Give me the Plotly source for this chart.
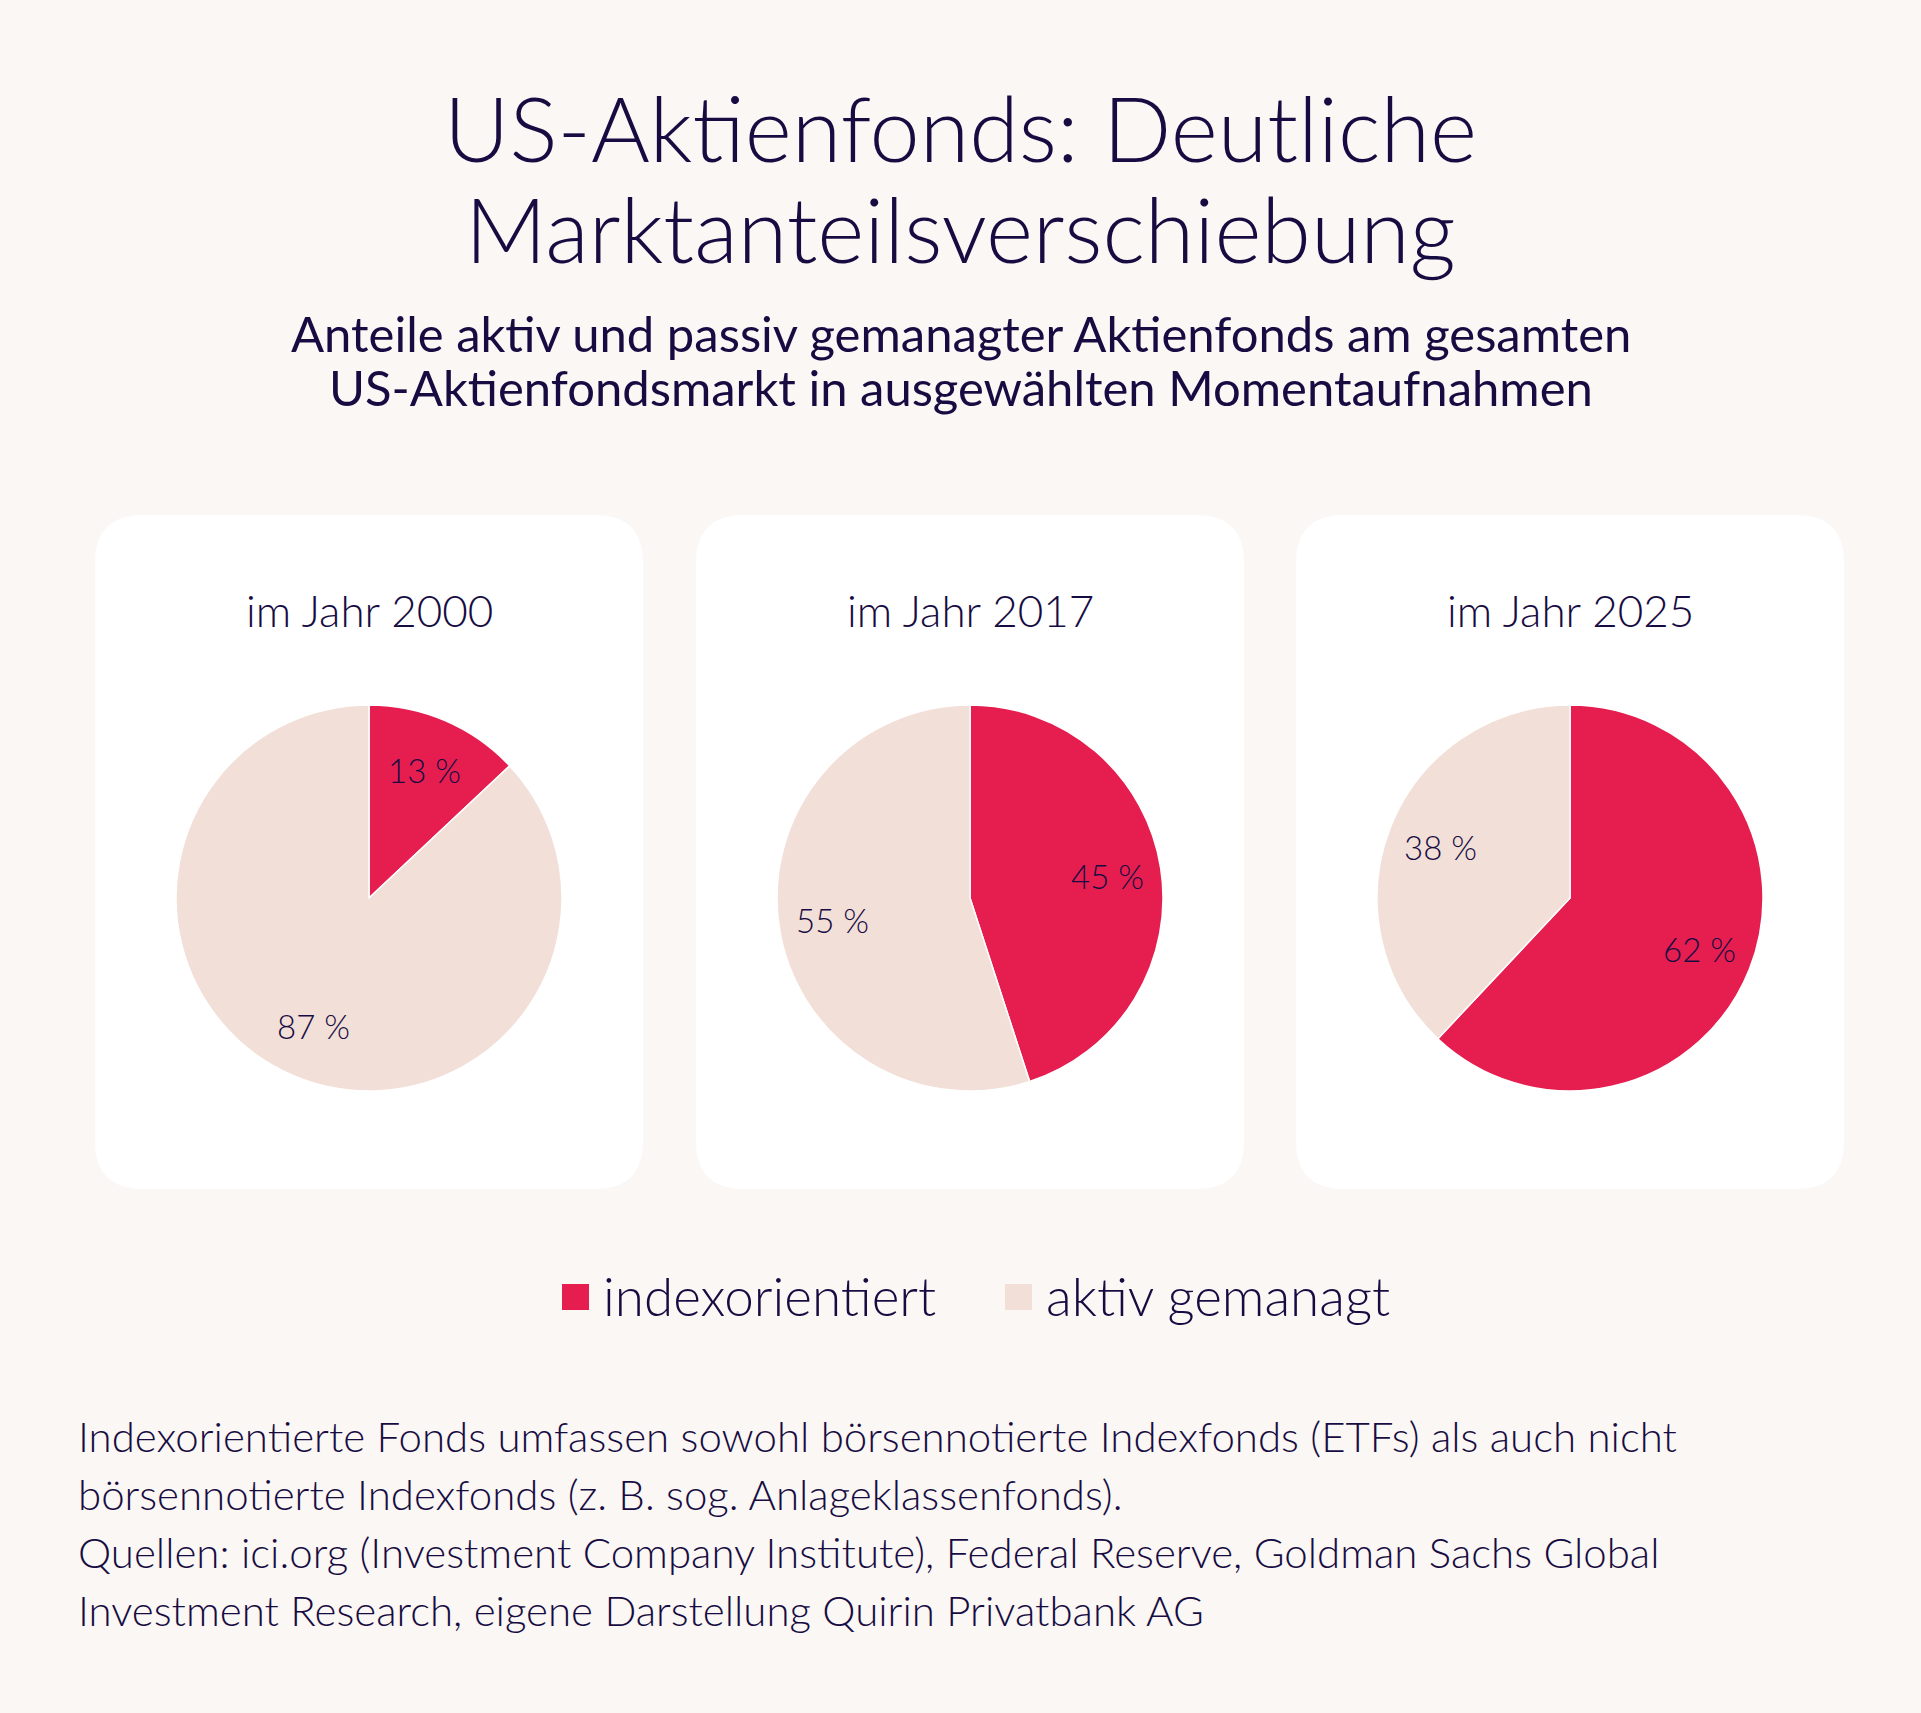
import math
import plotly.graph_objects as go

# data
years = ["2000", "2017", "2025"]
categories = ["indexorientiert", "aktiv gemanagt"]
index_share = [13, 45, 62]
active_share = [87, 55, 38]

title_lines = ["US-Aktienfonds: Deutliche", "Marktanteilsverschiebung"]
subtitle_lines = ["Anteile aktiv und passiv gemanagter Aktienfonds am gesamten",
                  "US-Aktienfondsmarkt in ausgewählten Momentaufnahmen"]
footnote_lines = [
    "Indexorientierte Fonds umfassen sowohl börsennotierte Indexfonds (ETFs) als auch nicht",
    "börsennotierte Indexfonds (z. B. sog. Anlageklassenfonds).",
    "Quellen: ici.org (Investment Company Institute), Federal Reserve, Goldman Sachs Global",
    "Investment Research, eigene Darstellung Quirin Privatbank AG",
]

W, H = 1921, 1713
BG = "#faf7f4"
TXT = "#170c42"
RED = "#e61e50"
PINK = "#f2dfd8"
FONT = "Lato"


def px(x):
    return x / W


def py(y):
    return 1 - y / H


def rounded_rect(x0, y0, x1, y1, r):
    # pixel coords (y from top) -> path in paper coords
    p = [
        f"M{px(x0 + r)},{py(y0)}",
        f"L{px(x1 - r)},{py(y0)}",
        f"Q{px(x1)},{py(y0)} {px(x1)},{py(y0 + r)}",
        f"L{px(x1)},{py(y1 - r)}",
        f"Q{px(x1)},{py(y1)} {px(x1 - r)},{py(y1)}",
        f"L{px(x0 + r)},{py(y1)}",
        f"Q{px(x0)},{py(y1)} {px(x0)},{py(y1 - r)}",
        f"L{px(x0)},{py(y0 + r)}",
        f"Q{px(x0)},{py(y0)} {px(x0 + r)},{py(y0)}",
        "Z",
    ]
    return " ".join(p)


fig = go.Figure()
shapes = []
annotations = []

panel_left = [95, 696, 1296]
panel_w = 548
pie_r = 193
pie_cy = 898
label_r = 0.72

for i, yr in enumerate(years):
    x0 = panel_left[i]
    shapes.append(dict(type="path", path=rounded_rect(x0, 515, x0 + panel_w, 1189, 48),
                       xref="paper", yref="paper", fillcolor="white",
                       line=dict(width=0), layer="below"))
    cx = x0 + panel_w / 2
    vals = [index_share[i], active_share[i]]
    fig.add_trace(go.Pie(
        labels=categories,
        values=vals,
        sort=False,
        direction="clockwise",
        rotation=0,
        marker=dict(colors=[RED, PINK], line=dict(color="white", width=1.5)),
        textinfo="none",
        domain=dict(x=[px(cx - pie_r), px(cx + pie_r)],
                    y=[py(pie_cy + pie_r), py(pie_cy - pie_r)]),
        showlegend=False,
        hoverinfo="label+percent",
    ))
    # slice labels along each slice's bisector
    start = 0.0
    total = sum(vals)
    for v in vals:
        mid = (start + v / 2) / total * 2 * math.pi
        lx = cx + label_r * pie_r * math.sin(mid)
        ly = pie_cy - label_r * pie_r * math.cos(mid)
        annotations.append(dict(text=f"{v} %", x=px(lx), y=py(ly), xref="paper", yref="paper",
                                showarrow=False, xanchor="center", yanchor="middle",
                                font=dict(family=FONT, size=33, color=TXT, weight=300)))
        start += v
    annotations.append(dict(text=f"im Jahr {yr}", x=px(cx), y=py(610),
                            xref="paper", yref="paper", showarrow=False,
                            xanchor="center", yanchor="middle",
                            font=dict(family=FONT, size=44, color=TXT, weight=300)))

# title and subtitle
for j, line in enumerate(title_lines):
    annotations.append(dict(text=line, x=0.5, y=py(127 + j * 101), xref="paper", yref="paper",
                            showarrow=False, xanchor="center", yanchor="middle",
                            font=dict(family=FONT, size=90, color=TXT, weight=300)))
for j, line in enumerate(subtitle_lines):
    annotations.append(dict(text=line, x=0.5, y=py(333 + j * 54), xref="paper", yref="paper",
                            showarrow=False, xanchor="center", yanchor="middle",
                            font=dict(family=FONT, size=49, color=TXT, weight=400)))

# legend
leg_sq = [562, 1005]
for j, cat in enumerate(categories):
    shapes.append(dict(type="rect", xref="paper", yref="paper",
                       x0=px(leg_sq[j]), x1=px(leg_sq[j] + 27),
                       y0=py(1310), y1=py(1284),
                       fillcolor=[RED, PINK][j], line=dict(width=0)))
    annotations.append(dict(text=cat, x=px(leg_sq[j] + 39), y=py(1295), xref="paper", yref="paper",
                            showarrow=False, xanchor="left", yanchor="middle",
                            font=dict(family=FONT, size=53, color=TXT, weight=300)))

# footnote
for j, line in enumerate(footnote_lines):
    annotations.append(dict(text=line, x=px(76), y=py(1436 + j * 58), xref="paper", yref="paper",
                            showarrow=False, xanchor="left", yanchor="middle",
                            font=dict(family=FONT, size=42, color=TXT, weight=300)))

fig.update_layout(
    width=W, height=H,
    margin=dict(l=0, r=0, t=0, b=0),
    paper_bgcolor=BG,
    plot_bgcolor=BG,
    shapes=shapes,
    annotations=annotations,
    showlegend=False,
)

fig.write_html("out.html", config={"displayModeBar": False},
               post_script="document.body.style.margin='0';")
